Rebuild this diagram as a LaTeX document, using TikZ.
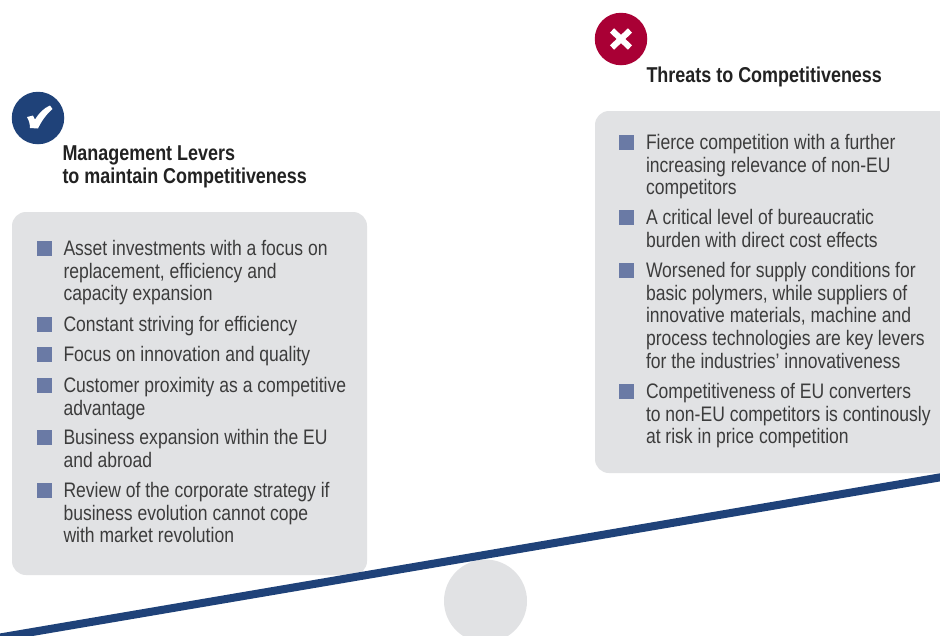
\documentclass[tikz,border=0pt]{standalone}
\usepackage{fontspec}
\setmainfont[FakeStretch=0.835]{Liberation Sans}
\definecolor{navy}{HTML}{1F4279}
\definecolor{crim}{HTML}{A90035}
\definecolor{panel}{HTML}{E1E2E4}
\definecolor{bul}{HTML}{6A7AA5}
\definecolor{body}{HTML}{3C3C3C}
\definecolor{head}{HTML}{222222}
\tikzset{
  panelbox/.style={fill=panel,draw=none,rounded corners=14pt},
  bulletbox/.style={fill=bul,draw=none,minimum width=14.5pt,minimum height=14.5pt,inner sep=0pt,outer sep=0pt,anchor=north west},
  itemtext/.style={anchor=north west,inner sep=0pt,outer sep=0pt,align=left,text=body,font=\fontsize{21}{22.8}\selectfont},
  headtext/.style={anchor=north west,inner sep=0pt,outer sep=0pt,align=left,text=head,font=\fontsize{21.5}{23}\selectfont\bfseries},
  badge/.style={circle,inner sep=0pt,outer sep=0pt,minimum size=52.5pt,draw=none}
}
\begin{document}
\begin{tikzpicture}[x=1pt,y=-1pt]
\useasboundingbox (0,0) rectangle (940,635);
\fill[white] (0,0) rectangle (940,635);
% fulcrum and beam
\node[circle,fill=panel,draw=none,minimum size=83pt,inner sep=0pt] (fulcrum) at (485.5,601) {};
% panels
\begin{scope}
\clip (0,0) rectangle (940,635);
\fill[panelbox] (12,212) rectangle (367,575);
\fill[panelbox] (595,111) rectangle (965,473);
\coordinate (beamL) at (0,637.5);
\coordinate (beamR) at (945,476.5);
\draw[navy,line width=8pt] (beamL) -- (beamR);
\end{scope}
% badges
\node[badge,fill=navy] (ok) at (38,118) {};
\fill[white] (27,117) -- (33,115.5) -- (35,119.5) .. controls (39,113) and (44,108) .. (50,105.5)
  -- (52.5,109) .. controls (46,114.5) and (41,122) .. (38,128.5) -- (30,128) .. controls (30,124) and (29,120.5) .. (27,117) -- cycle;
\node[badge,fill=crim] (no) at (621,39) {};
\draw[white,line width=6pt] (612,30.5) -- (630,47.5);
\draw[white,line width=6pt] (630,30.5) -- (612,47.5);
% headings
\node[headtext] (h1) at (62.5,146) {Management Levers\\to maintain Competitiveness};
\node[headtext] (h2) at (646.5,66.5) {Threats to Competitiveness};
% left items
\node[bulletbox] (lb1) at (37,241) {};
\node[itemtext] (l1) at (63.5,240) {Asset investments with a focus on\\replacement, efficiency and\\capacity expansion};
\node[bulletbox] (lb2) at (37,317) {};
\node[itemtext] (l2) at (63.5,316) {Constant striving for efficiency};
\node[bulletbox] (lb3) at (37,347) {};
\node[itemtext] (l3) at (63.5,346) {Focus on innovation and quality};
\node[bulletbox] (lb4) at (37,378) {};
\node[itemtext] (l4) at (63.5,377) {Customer proximity as a competitive\\advantage};
\node[bulletbox] (lb5) at (37,430) {};
\node[itemtext] (l5) at (63.5,429) {Business expansion within the EU\\and abroad};
\node[bulletbox] (lb6) at (37,483) {};
\node[itemtext] (l6) at (63.5,482) {Review of the corporate strategy if\\business evolution cannot cope\\with market revolution};
% right items
\node[bulletbox] (rb1) at (619,135) {};
\node[itemtext] (r1) at (646,134) {Fierce competition with a further\\increasing relevance of non-EU\\competitors};
\node[bulletbox] (rb2) at (619,210) {};
\node[itemtext] (r2) at (646,209) {A critical level of bureaucratic\\burden with direct cost effects};
\node[bulletbox] (rb3) at (619,263) {};
\node[itemtext] (r3) at (646,262) {Worsened for supply conditions for\\basic polymers, while suppliers of\\innovative materials, machine and\\process technologies are key levers\\for the industries’ innovativeness};
\node[bulletbox] (rb4) at (619,384) {};
\node[itemtext] (r4) at (646,383) {Competitiveness of EU converters\\to non-EU competitors is continously\\at risk in price competition};
\end{tikzpicture}
\end{document}
